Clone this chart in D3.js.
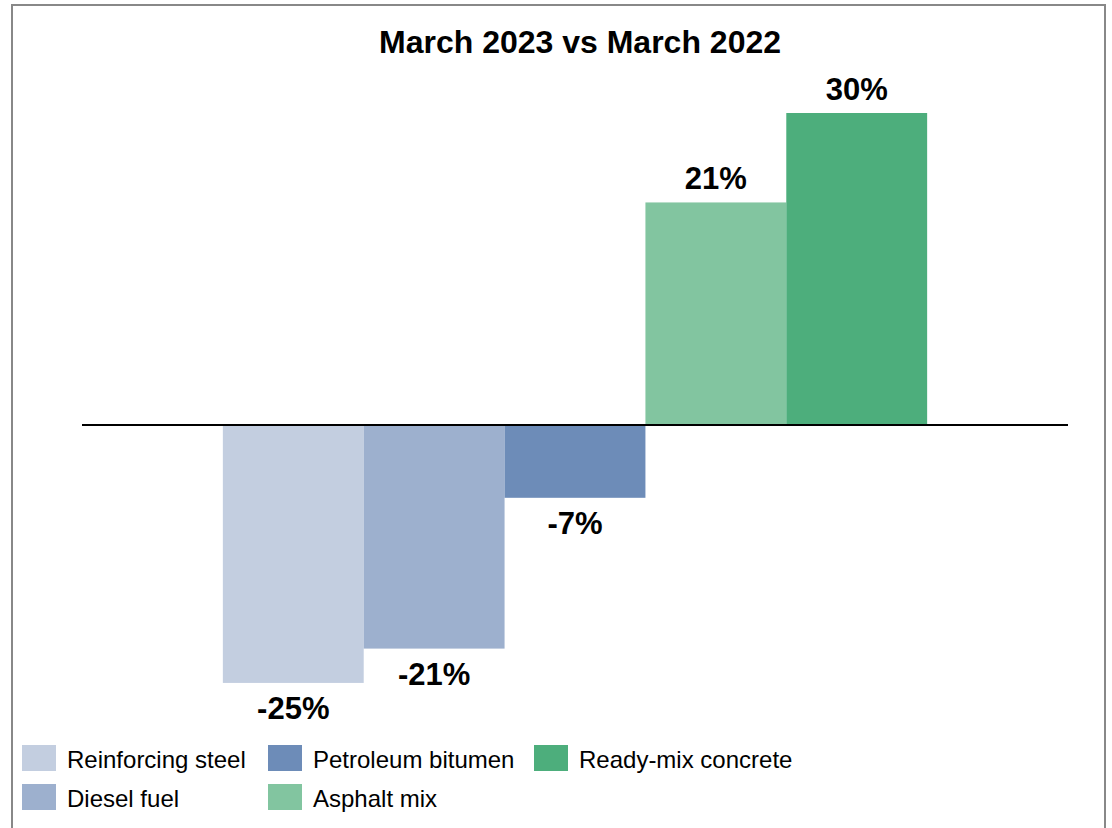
<!DOCTYPE html>
<html>
<head>
<meta charset="utf-8">
<script src="https://cdn.jsdelivr.net/npm/d3@7"></script>
<style>
  body { margin: 0; background: #fff; }
  text { font-family: "Liberation Sans", Arial, sans-serif; }
</style>
</head>
<body>
<div id="chart"></div>
<script>
// data
var seriesNames = ["Reinforcing steel", "Diesel fuel", "Petroleum bitumen", "Asphalt mix", "Ready-mix concrete"];
var seriesValues = [-24.8, -21.5, -7.0, 21.4, 30.0];
var valueLabels = ["-25%", "-21%", "-7%", "21%", "30%"];
var seriesColors = ["#c3cee0", "#9db0ce", "#6d8cb8", "#82c5a0", "#4dae7c"];
var titleText = "March 2023 vs March 2022";

// legend goes column by column, 2 rows
var legendCols = [[0, 1], [2, 3], [4]];

var width = 1112, height = 828;

var svg = d3.select("#chart").append("svg")
    .attr("width", width)
    .attr("height", height);

// outer frame
svg.append("rect")
    .attr("x", 12)
    .attr("y", 5)
    .attr("width", 1093)
    .attr("height", 840)
    .attr("fill", "#fff")
    .attr("stroke", "#888")
    .attr("stroke-width", 2);

svg.append("text")
    .attr("x", 580)
    .attr("y", 53)
    .attr("text-anchor", "middle")
    .style("font-size", "32px")
    .style("font-weight", "bold")
    .text(titleText);

// one category, bars side by side, gap = one bar on each side
var x = d3.scaleBand()
    .domain(seriesNames)
    .range([82, 1068])
    .paddingInner(0)
    .paddingOuter(1);

var y = d3.scaleLinear()
    .domain([-30, 30])
    .range([737, 113]);

var bars = svg.selectAll(".bar")
    .data(seriesNames)
    .enter().append("rect")
    .attr("class", "bar")
    .attr("x", function(d) { return x(d); })
    .attr("width", x.bandwidth())
    .attr("y", function(d, i) { return Math.min(y(seriesValues[i]), y(0)); })
    .attr("height", function(d, i) { return Math.abs(y(seriesValues[i]) - y(0)); })
    .attr("fill", function(d, i) { return seriesColors[i]; });

// zero line
svg.append("line")
    .attr("x1", x.range()[0])
    .attr("x2", x.range()[1])
    .attr("y1", y(0))
    .attr("y2", y(0))
    .attr("stroke", "#000")
    .attr("stroke-width", 2);

svg.selectAll(".val")
    .data(seriesNames)
    .enter().append("text")
    .attr("class", "val")
    .attr("x", function(d) { return x(d) + x.bandwidth() / 2; })
    .attr("y", function(d, i) {
        var v = seriesValues[i];
        return v >= 0 ? y(v) - 13 : y(v) + 36;
    })
    .attr("text-anchor", "middle")
    .style("font-size", "31px")
    .style("font-weight", "bold")
    .text(function(d, i) { return valueLabels[i]; });

// legend
var colX = [22, 268, 534], rowY = [745, 784];
legendCols.forEach(function(col, c) {
    col.forEach(function(idx, r) {
        var g = svg.append("g")
            .attr("class", "legend")
            .attr("transform", "translate(" + colX[c] + "," + rowY[r] + ")");
        g.append("rect")
            .attr("width", 34)
            .attr("height", 26)
            .attr("fill", seriesColors[idx]);
        g.append("text")
            .attr("x", 45)
            .attr("y", 23)
            .style("font-size", "24px")
            .text(seriesNames[idx]);
    });
});
</script>
</body>
</html>
